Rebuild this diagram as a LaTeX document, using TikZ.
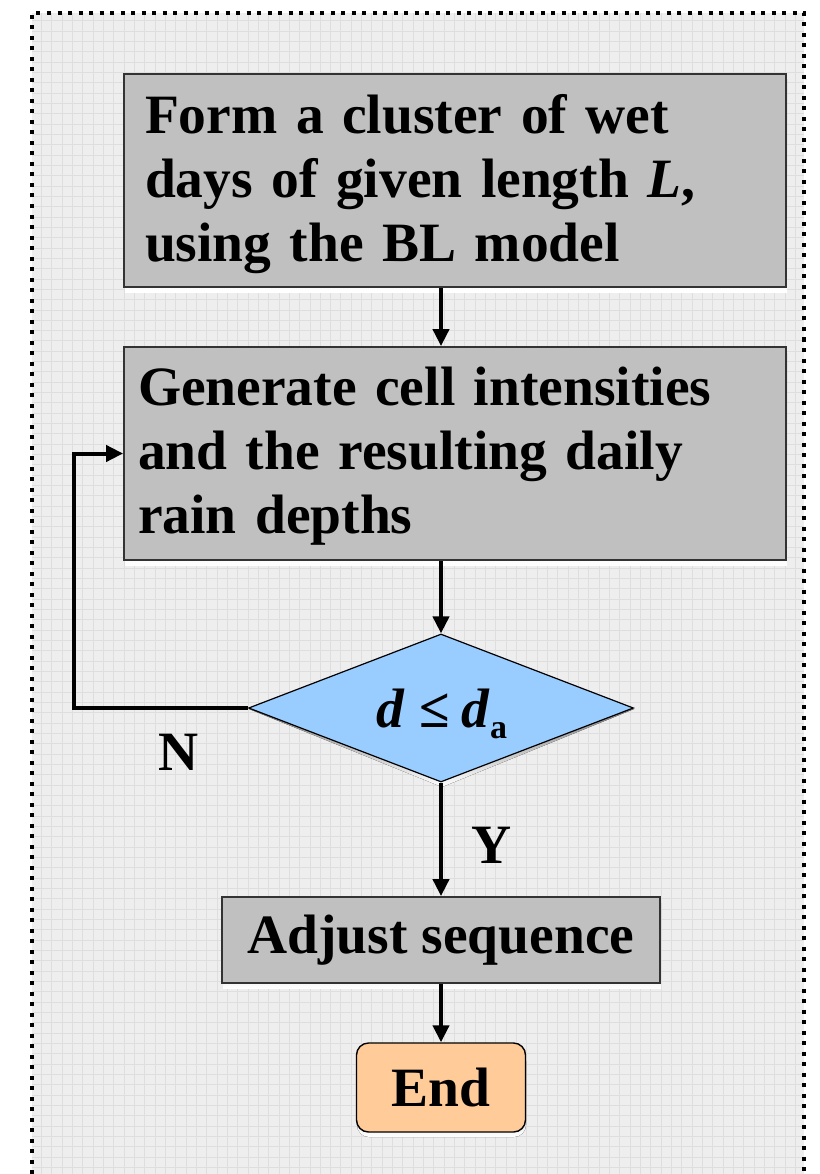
\documentclass[tikz,border=0pt]{standalone}
\usepackage{fontspec}
\setmainfont{Liberation Serif}
\usetikzlibrary{arrows.meta,shapes.geometric}
\definecolor{paper}{HTML}{EEEEEE}
\definecolor{gridln}{HTML}{DEDEDE}
\definecolor{boxfill}{HTML}{C0C0C0}
\definecolor{decfill}{HTML}{99CCFF}
\definecolor{endfill}{HTML}{FFCC99}
\definecolor{shade}{HTML}{858585}
\tikzset{
  every node/.style={font=\fontsize{55.5}{64}\selectfont\bfseries},
  procbox/.style={draw=black!80, line width=1.8pt, fill=boxfill, rectangle, inner sep=0pt},
  decbox/.style={draw=black, line width=1.2pt, fill=decfill, diamond, inner sep=0pt, aspect=2.6},
  endbox/.style={draw=black, line width=1.4pt, fill=endfill, rectangle, rounded corners=12pt, inner sep=0pt},
  flow/.style={line width=4pt, -{Triangle[length=17pt,width=16pt]}},
  lbl/.style={inner sep=0pt},
  steptext/.style={inner sep=0pt, align=left, anchor=center}
}
\begin{document}
\begin{tikzpicture}[x=1pt,y=-1pt]
  \useasboundingbox (0,0) rectangle (819,1174);
  % sheet with grid and dotted border
  \fill[paper] (32,13) rectangle (804,1174);
  \draw[gridln, line width=0.8pt, step=10.33pt] (32,13) grid (804,1174);
  \draw[line width=4pt, dash pattern=on 4pt off 6.5pt] (32,1174) -- (32,13) -- (804,13) -- (804,1174);

  % drop shadows
  \fill[shade] (125,80) rectangle (787,292);
  \fill[shade] (125,353) rectangle (787,565);
  \fill[shade] (223,903) rectangle (661,988);
  \fill[shade, rounded corners=12pt] (357,1049) rectangle (526,1137);
  \fill[shade] (249,709) -- (442,787) -- (634,709) -- cycle;

  % process steps (box, then its text block)
  \node[procbox, minimum width=662pt, minimum height=213pt] (form) at (455,180.5) {};
  \node[steptext, text width=620pt] (formtxt) at (455,184)
    {Form a cluster of wet\\days of given length \textit{L},\\using the BL model};
  \node[procbox, minimum width=662pt, minimum height=213pt] (gen) at (455,453.5) {};
  \node[steptext, text width=634pt] (gentxt) at (455,456)
    {Generate cell intensities\\and the resulting daily\\rain depths};
  \node[decbox, minimum width=385pt, minimum height=148pt] (dec) at (441,708) {};
  \node[lbl, anchor=base] (cond) at (442,727)
    {\textit{d}\hspace{14pt}≤\hspace{12pt}\textit{d}\raisebox{-11pt}{\fontsize{34}{34}\selectfont a}};
  \node[procbox, minimum width=438pt, minimum height=86pt] (adj) at (441,940) {Adjust sequence};
  \node[endbox, minimum width=169pt, minimum height=89pt] (end) at (441,1087.5) {End};

  % connectors
  \draw[flow] (form.south -| dec.north) -- (gen.north -| dec.north);
  \draw[flow] (gen.south -| dec.north) -- (dec.north);
  \draw[flow] (dec.south) -- (adj.north);
  \draw[flow] (adj.south) -- (end.north);
  \coordinate (loop) at (74,708);
  \draw[flow] (dec.west) -- (loop) |- (gen.west);

  % branch labels
  \node[lbl] (no) at (179,752) {N};
  \node[lbl] (yes) at (492,845) {Y};
\end{tikzpicture}
\end{document}
